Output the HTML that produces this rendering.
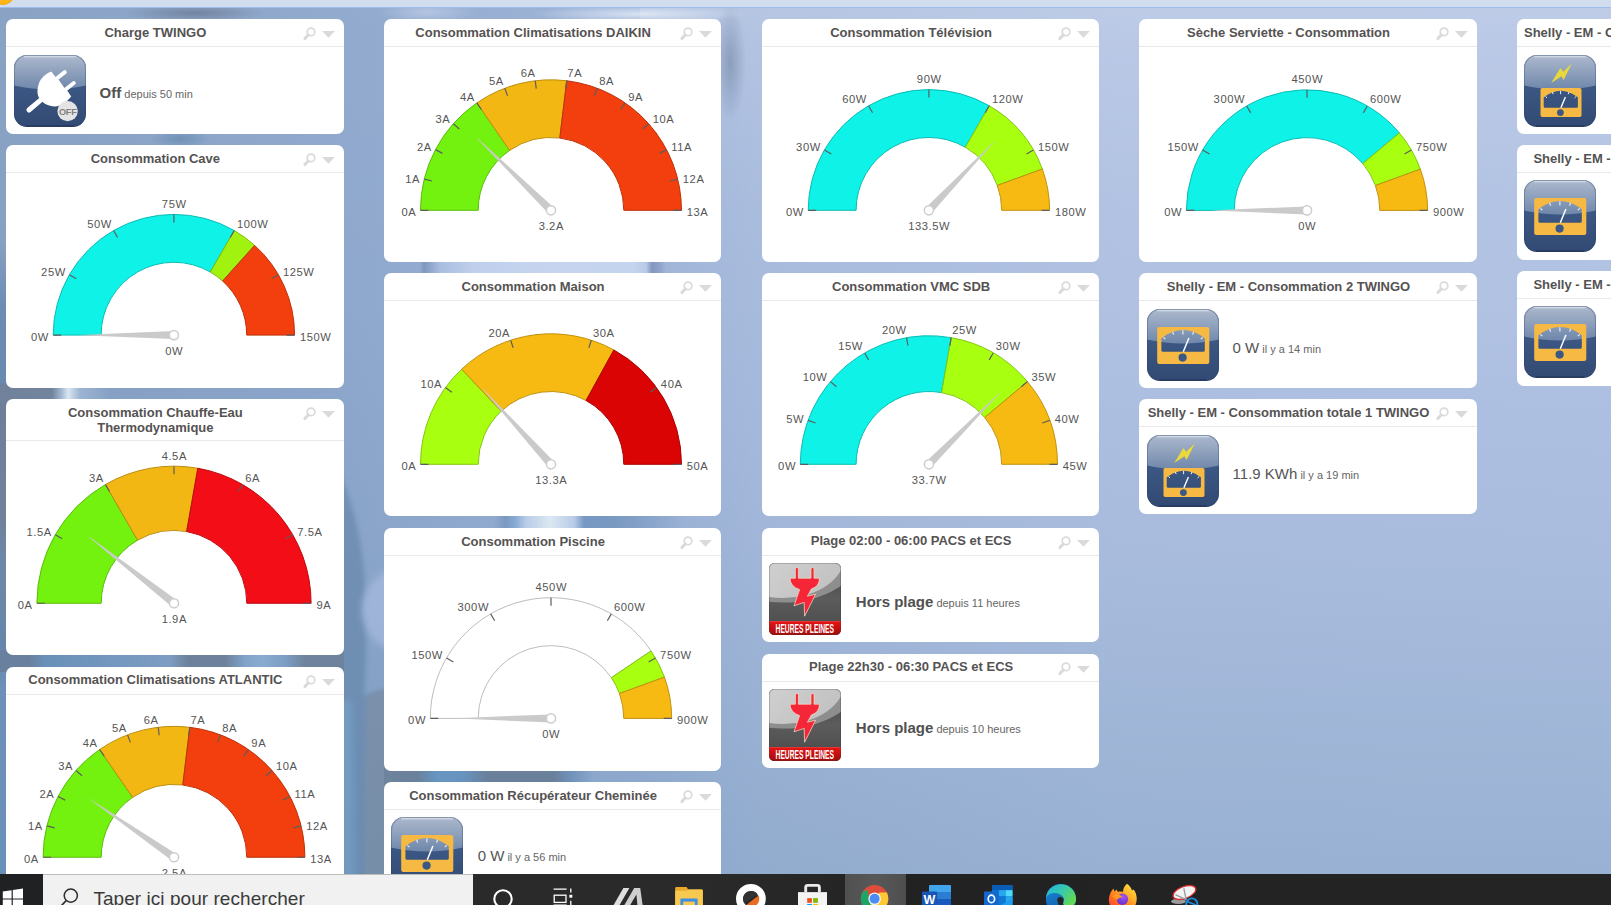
<!DOCTYPE html>
<html lang="fr"><head><meta charset="utf-8"><title>Dashboard</title>
<style>
html,body{margin:0;padding:0;overflow:hidden}
#page{position:absolute;left:0;top:0;width:1611px;height:905px;overflow:hidden}
body{width:1611px;height:905px;overflow:hidden;position:relative;font-family:"Liberation Sans", sans-serif;background:#94acd1}
#bg{position:absolute;left:0;top:0;width:1611px;height:905px;overflow:hidden;
background:
radial-gradient(ellipse 70px 9px at 195px 13px,rgba(108,124,150,.9),rgba(108,124,150,0) 100%),
radial-gradient(ellipse 50px 12px at 428px 12px,rgba(184,199,228,.85),rgba(184,199,228,0) 100%),
radial-gradient(ellipse 16px 60px at 730px 62px,rgba(122,141,176,.9),rgba(122,141,176,0) 100%),
radial-gradient(ellipse 110px 9px at 640px 14px,rgba(225,233,247,.85),rgba(225,233,247,0) 100%),
radial-gradient(ellipse 30px 10px at 180px 139px,rgba(106,140,178,.9),rgba(106,140,178,0) 100%),
linear-gradient(90deg,#86a0c3 0,#88a2c6 120px,#8fa8cd 360px,#9db3d7 640px,#a8bbdd 760px,#b0c1e2 1120px,#b1c2e3 1611px)}
#bg:after{content:"";position:absolute;left:0;top:0;right:0;bottom:0;
background:linear-gradient(180deg,rgba(255,255,255,.03) 0,rgba(255,255,255,0) 300px,rgba(60,110,150,.07) 560px,rgba(60,115,150,.22) 905px)}
#bg i{position:absolute;display:block}
#topbar{position:absolute;left:0;top:0;width:1611px;height:7px;background:#d1ddef;border-bottom:1px solid #9dbdea}
#dot{position:absolute;left:-9px;top:-19.5px;width:22px;height:22px;border-radius:50%;background:#fdb71a;border:1px solid #f3a70e}
.card{position:absolute;background:#fff;border-radius:7px;overflow:hidden;margin:0}
.ttl{position:absolute;margin:0;font-size:13px;line-height:15px;font-weight:bold;color:#555252;text-align:center;padding-top:6.1px;white-space:nowrap}
.hic{position:absolute}
.hr{position:absolute;left:0;right:0;height:1px;background:#e9e9e9}
.ic{position:absolute}
.val{position:absolute;margin:0;white-space:nowrap;line-height:36px;height:36px;color:#555}
.big{font-size:15px;color:#555}
.b{font-weight:bold;color:#505050}
.sm{font-size:11px;color:#666}
.g{position:absolute;left:0;top:0;pointer-events:none}
.g text{font-family:"Liberation Sans", sans-serif;font-size:11.2px;letter-spacing:.55px;fill:#555}
</style></head><body>
<main id="page">
<div id="bg">
<i style="left:640px;top:0;width:971px;height:300px;background:linear-gradient(180deg,rgba(255,255,255,.15) 0,rgba(255,255,255,.1) 40px,rgba(255,255,255,.02) 200px,rgba(255,255,255,0) 300px)"></i>
<i style="left:0;top:8px;width:9px;height:867px;background:linear-gradient(180deg,rgba(134,160,195,0) 0,rgba(134,160,195,0) 235px,#6c8cb1 300px,#6a8bb0 375px,#6e7f99 395px,#73849e 520px,#6f8aad 560px,#6d88ab 640px,#7296bd 680px,#7598c0 867px)"></i>
<i style="left:0;top:383px;width:360px;height:20px;background:linear-gradient(90deg,#72829c 0,#74849d 52px,#a9bdd6 62px,#dfe9f2 68px,#9fb6d4 80px,rgba(136,162,198,0) 110px)"></i>
<i style="left:0;top:650px;width:345px;height:22px;background:linear-gradient(90deg,#6f839f 0,#6f839f 30px,#6f95bd 45px,#7a9cc4 110px,#86a2c8 170px,#73839c 188px,#73839c 225px,#8aaad0 245px,#93b3d8 262px,#86a4ca 285px,#75859e 305px,#75859e 345px)"></i>
<svg style="position:absolute;left:344px;top:430px" width="40" height="445" viewBox="344 430 40 445">
<defs><filter id="bl3" x="-50%" y="-10%" width="200%" height="120%"><feGaussianBlur stdDeviation="2.5"/></filter>
<filter id="bl5" x="-50%" y="-50%" width="200%" height="200%"><feGaussianBlur stdDeviation="3.5"/></filter></defs>
<path d="M330 452 C350 490 360 530 364 572 C367 612 367 650 364 696 L392 690 L392 890 L330 890 Z" fill="#7492b6" filter="url(#bl3)"/>
<circle cx="404" cy="610" r="42" fill="#a8bbdf" filter="url(#bl5)"/>

<path d="M366 700 C372 690 380 690 392 688 L392 890 L364 890 Z" fill="#8595ad" filter="url(#bl3)"/>
<path d="M338 700 L352 700 L356 890 L338 890 Z" fill="#7fa2c9" filter="url(#bl5)"/>
</svg>
<i style="left:384px;top:255px;width:340px;height:25px;background:linear-gradient(90deg,rgba(159,179,214,0) 0,rgba(159,179,214,0) 36px,#7f97bd 40px,#a9bde0 56px,#c0d0ec 90px,#c6d4ef 170px,#c4d3ee 250px,#b9c9e8 262px,#8296bf 268px,#8fa3ca 276px,rgba(159,179,214,0) 282px)"></i>
<i style="left:384px;top:509px;width:340px;height:25px;background:linear-gradient(90deg,rgba(148,171,208,0) 0,rgba(148,171,208,0) 110px,#7d9cc4 122px,#8fb0d8 132px,#c0d2ec 142px,#e6eff8 166px,#c0d2ec 190px,#7a9bc6 200px,#7d9cc4 230px,rgba(148,171,208,0) 300px)"></i>
<i style="left:384px;top:764px;width:234px;height:25px;background:linear-gradient(90deg,#78889f 0,#73839c 32px,#6f9dcb 54px,#7099c6 79px,#73839c 104px,#73839c 170px,#7796bd 184px,rgba(148,171,208,0) 209px)"></i>
</div>
<div id="topbar"></div><div id="dot"></div>
<svg width="0" height="0" style="position:absolute"><defs>
<linearGradient id="gTop" x1="0" y1="0" x2="0" y2="1"><stop offset="0" stop-color="#b4c0d2"/><stop offset=".12" stop-color="#a5b3c9"/><stop offset="1" stop-color="#6f87ab"/></linearGradient>
<linearGradient id="gBot" x1="0" y1="0" x2="0" y2="1"><stop offset="0" stop-color="#3d5b88"/><stop offset=".45" stop-color="#3b5783"/><stop offset="1" stop-color="#324a73"/></linearGradient>
<clipPath id="cpIcon"><rect x="0" y="0" width="72" height="72" rx="13" ry="13"/></clipPath>
<g id="blueBase">
  <rect x="0" y="0" width="72" height="72" rx="13" ry="13" fill="url(#gBot)"/>
  <g clip-path="url(#cpIcon)"><path d="M0 0 H72 V30.5 Q36 38.5 0 30.5 Z" fill="url(#gTop)"/></g>
  <rect x=".5" y=".5" width="71" height="71" rx="12.5" ry="12.5" fill="none" stroke="#2b4067" stroke-opacity=".32" stroke-width="1"/>
  <path d="M10 1.7 H62" stroke="#dfe5ee" stroke-opacity=".9" stroke-width="1.1"/>
  <path d="M12 71 H60" stroke="#1b2c4c" stroke-opacity=".8" stroke-width="1.2"/>
</g>
<g id="plugoff">
  <use href="#blueBase"/>
  <path d="M14.9 55 L27.2 44.6" stroke="#fff" stroke-width="5" stroke-linecap="round" fill="none"/>
  <path d="M43 23.3 L50.8 17.1" stroke="#fff" stroke-width="3.9" stroke-linecap="round"/>
  <path d="M51.9 34.2 L59.8 28" stroke="#fff" stroke-width="3.9" stroke-linecap="round"/>
  <path d="M37.3 16.6 L41 21.3 L45 25.3 L49.9 32.2 L53.9 36.5 L57.2 41.5 C54.5 45 52 47 48.9 48.8 C46 50.8 43 51.6 40.3 51.4 C36 51.4 32.5 50 29.7 48.1 L24.7 42.2 C23.3 39.5 23.3 36.5 23.7 33.5 C24.2 30 25.3 27 27 24.3 C28.3 22.6 30 21 31.7 19.6 C33.5 18.2 35.3 17.3 37.3 16.6 Z" fill="#fff"/>
  <circle cx="53.6" cy="56.1" r="10.2" fill="#e4e4e4"/>
  <text x="53.7" y="59.5" text-anchor="middle" font-family="'Liberation Sans',sans-serif" font-weight="bold" font-size="9.2" fill="#808080" letter-spacing="-.25">OFF</text>
</g>
<g id="meter">
  <use href="#blueBase"/>
  <path fill-rule="evenodd" fill="#f6b943" d="M12.2 18 H60.3 Q62.3 18 62.3 20 V52.9 Q62.3 54.9 60.3 54.9 H12.2 Q10.2 54.9 10.2 52.9 V20 Q10.2 18 12.2 18 Z
   M14.4 29.2 Q36.1 12.8 57.8 29.2 V41.3 Q57.8 42.8 56.3 42.8 H15.9 Q14.4 42.8 14.4 41.3 Z"/>
  <path d="M35.9 21.3 V25.6 M25.6 22.8 L26.6 25.6 M46.6 22.8 L45.6 25.6 M16.4 28.3 L18.4 30.2 M55.8 28.3 L53.8 30.2" stroke="#eef1f6" stroke-width="1.1" fill="none"/>
  <path d="M36.3 42.8 L41.9 29" stroke="#fff" stroke-width="1.5"/>
  <circle cx="35.6" cy="48.6" r="4.1" fill="#3b5884"/>
</g>
<g id="meterbolt">
  <use href="#blueBase"/>
  <path d="M27.2 28.1 L36.4 13 L39.2 16.8 L47.8 8.4 L39.6 24.9 L37.4 21.3 Z" fill="#e9d93a"/>
  <path fill-rule="evenodd" fill="#f6b943" d="M18.3 32.9 H55.7 Q57.5 32.9 57.5 34.7 V60.3 Q57.5 62.1 55.7 62.1 H18.3 Q16.5 62.1 16.5 60.3 V34.7 Q16.5 32.9 18.3 32.9 Z
   M19.7 42.2 Q36.8 29.2 53.9 42.2 V51.5 Q53.9 52.8 52.6 52.8 H21 Q19.7 52.8 19.7 51.5 Z"/>
  <path d="M36.6 35.8 V39.2 M28.4 37 L29.2 39.2 M45 37 L44.2 39.2 M21.4 41.4 L23 42.9 M52.2 41.4 L50.6 42.9" stroke="#eef1f6" stroke-width="1" fill="none"/>
  <path d="M36.9 52.8 L41.4 42" stroke="#fff" stroke-width="1.4"/>
  <circle cx="36.4" cy="57.6" r="3.4" fill="#3b5884"/>
</g>
<linearGradient id="hpTop" x1="0" y1="0" x2="1" y2=".7"><stop offset="0" stop-color="#a9a9a9"/><stop offset=".55" stop-color="#cfcfcf"/><stop offset="1" stop-color="#c2c2c2"/></linearGradient>
<linearGradient id="hpBot" x1="0" y1="0" x2="0" y2="1"><stop offset="0" stop-color="#444"/><stop offset=".5" stop-color="#5c5c5c"/><stop offset="1" stop-color="#484848"/></linearGradient>
<linearGradient id="hpRed" x1="0" y1="0" x2="0" y2="1"><stop offset="0" stop-color="#e81414"/><stop offset="1" stop-color="#a30b0b"/></linearGradient>
<clipPath id="cpHp"><rect x="0" y="0" width="72" height="72" rx="5.5" ry="5.5"/></clipPath>
<g id="hp">
  <g clip-path="url(#cpHp)">
    <rect x="0" y="0" width="72" height="72" fill="url(#hpBot)"/>
    <ellipse cx="14" cy="-8" rx="76" ry="47.5" fill="#8e8e8e"/>
    <ellipse cx="14" cy="-8" rx="62" ry="43" fill="url(#hpTop)"/>
    <rect x="0" y="58.3" width="72" height="13.7" fill="url(#hpRed)"/>
    <path d="M0 58.6 H72" stroke="#f43a3a" stroke-width=".8"/>
  </g>
  <rect x=".4" y=".4" width="71.2" height="71.2" rx="5.2" ry="5.2" fill="none" stroke="#3a3a3a" stroke-opacity=".35" stroke-width=".8"/>
  <path d="M26.4 15.2 V6 Q26.4 4.4 27.9 4.4 Q29.4 4.4 29.4 6 V15.2 H42 V6 Q42 4.4 43.5 4.4 Q45 4.4 45 6 V15.2 H50.4 Q50.6 23.4 42.4 26 L38.4 33.2 L46.6 31.2 L35.6 53.2 L35.2 39.4 L25 42.8 L30.6 26.6 Q21.2 23.6 21 15.2 Z"
   fill="#f52637" stroke="#f0d9c3" stroke-opacity=".85" stroke-width=".9" stroke-linejoin="round"/>
  <text x="35.8" y="70.2" text-anchor="middle" font-family="'Liberation Sans',sans-serif" font-weight="bold" font-size="13.6" fill="#fff" textLength="58.5" lengthAdjust="spacingAndGlyphs">HEURES PLEINES</text>
</g>
</defs></svg>

<section class="card" style="left:5.80px;top:18.80px;width:338.20px;height:115.25px">
<h3 class="ttl" style="left:5px;top:0px;width:289.20px">Charge TWINGO</h3>
<svg class="hic" style="left:294.20px;top:6px" width="40" height="18" viewBox="0 0 40 18"><circle cx="11" cy="6.9" r="3.8" fill="none" stroke="#dadada" stroke-width="1.7"/><path d="M8.2 9.9 L4.9 13.6" stroke="#dadada" stroke-width="3" stroke-linecap="round"/><path d="M22 5.9 H34.9 L28.45 12.7 Z" fill="#dadada"/></svg>
<div class="hr" style="top:27.30px"></div>
<svg class="ic" style="left:8.3px;top:36.2px" width="72" height="72" viewBox="0 0 72 72"><use href="#plugoff"/></svg>
<p class="val" style="left:93.8px;top:56.70px"><span class="big b">Off</span><span class="sm"> depuis 50 min</span></p>
</section>
<section class="card" style="left:5.80px;top:144.70px;width:338.20px;height:243.30px">
<h3 class="ttl" style="left:5px;top:0px;width:289.20px">Consommation Cave</h3>
<svg class="hic" style="left:294.20px;top:6px" width="40" height="18" viewBox="0 0 40 18"><circle cx="11" cy="6.9" r="3.8" fill="none" stroke="#dadada" stroke-width="1.7"/><path d="M8.2 9.9 L4.9 13.6" stroke="#dadada" stroke-width="3" stroke-linecap="round"/><path d="M22 5.9 H34.9 L28.45 12.7 Z" fill="#dadada"/></svg>
<div class="hr" style="top:27.30px"></div>
</section>
<section class="card" style="left:5.80px;top:399.00px;width:338.20px;height:256.10px">
<h3 class="ttl" style="left:5px;top:-0.3px;width:289.20px">Consommation Chauffe-Eau<br>Thermodynamique</h3>
<svg class="hic" style="left:294.20px;top:6px" width="40" height="18" viewBox="0 0 40 18"><circle cx="11" cy="6.9" r="3.8" fill="none" stroke="#dadada" stroke-width="1.7"/><path d="M8.2 9.9 L4.9 13.6" stroke="#dadada" stroke-width="3" stroke-linecap="round"/><path d="M22 5.9 H34.9 L28.45 12.7 Z" fill="#dadada"/></svg>
<div class="hr" style="top:41.00px"></div>
</section>
<section class="card" style="left:5.80px;top:666.90px;width:338.20px;height:248.10px">
<h3 class="ttl" style="left:5px;top:-1px;width:289.20px">Consommation Climatisations ATLANTIC</h3>
<svg class="hic" style="left:294.20px;top:6px" width="40" height="18" viewBox="0 0 40 18"><circle cx="11" cy="6.9" r="3.8" fill="none" stroke="#dadada" stroke-width="1.7"/><path d="M8.2 9.9 L4.9 13.6" stroke="#dadada" stroke-width="3" stroke-linecap="round"/><path d="M22 5.9 H34.9 L28.45 12.7 Z" fill="#dadada"/></svg>
<div class="hr" style="top:27.30px"></div>
</section>
<section class="card" style="left:383.90px;top:18.80px;width:337.30px;height:243.10px">
<h3 class="ttl" style="left:5px;top:0px;width:288.30px">Consommation Climatisations DAIKIN</h3>
<svg class="hic" style="left:293.30px;top:6px" width="40" height="18" viewBox="0 0 40 18"><circle cx="11" cy="6.9" r="3.8" fill="none" stroke="#dadada" stroke-width="1.7"/><path d="M8.2 9.9 L4.9 13.6" stroke="#dadada" stroke-width="3" stroke-linecap="round"/><path d="M22 5.9 H34.9 L28.45 12.7 Z" fill="#dadada"/></svg>
<div class="hr" style="top:27.30px"></div>
</section>
<section class="card" style="left:383.90px;top:272.90px;width:337.30px;height:243.20px">
<h3 class="ttl" style="left:5px;top:0px;width:288.30px">Consommation Maison</h3>
<svg class="hic" style="left:293.30px;top:6px" width="40" height="18" viewBox="0 0 40 18"><circle cx="11" cy="6.9" r="3.8" fill="none" stroke="#dadada" stroke-width="1.7"/><path d="M8.2 9.9 L4.9 13.6" stroke="#dadada" stroke-width="3" stroke-linecap="round"/><path d="M22 5.9 H34.9 L28.45 12.7 Z" fill="#dadada"/></svg>
<div class="hr" style="top:27.30px"></div>
</section>
<section class="card" style="left:383.90px;top:527.80px;width:337.30px;height:243.20px">
<h3 class="ttl" style="left:5px;top:0px;width:288.30px">Consommation Piscine</h3>
<svg class="hic" style="left:293.30px;top:6px" width="40" height="18" viewBox="0 0 40 18"><circle cx="11" cy="6.9" r="3.8" fill="none" stroke="#dadada" stroke-width="1.7"/><path d="M8.2 9.9 L4.9 13.6" stroke="#dadada" stroke-width="3" stroke-linecap="round"/><path d="M22 5.9 H34.9 L28.45 12.7 Z" fill="#dadada"/></svg>
<div class="hr" style="top:27.30px"></div>
</section>
<section class="card" style="left:383.90px;top:782.00px;width:337.30px;height:133.00px">
<h3 class="ttl" style="left:5px;top:0px;width:288.30px">Consommation Récupérateur Cheminée</h3>
<svg class="hic" style="left:293.30px;top:6px" width="40" height="18" viewBox="0 0 40 18"><circle cx="11" cy="6.9" r="3.8" fill="none" stroke="#dadada" stroke-width="1.7"/><path d="M8.2 9.9 L4.9 13.6" stroke="#dadada" stroke-width="3" stroke-linecap="round"/><path d="M22 5.9 H34.9 L28.45 12.7 Z" fill="#dadada"/></svg>
<div class="hr" style="top:27.30px"></div>
<svg class="ic" style="left:7.3px;top:35.4px" width="72" height="72" viewBox="0 0 72 72"><use href="#meter"/></svg>
<p class="val" style="left:93.8px;top:55.90px"><span class="big">0 W</span><span class="sm"> il y a 56 min</span></p>
</section>
<section class="card" style="left:762.00px;top:18.80px;width:337.20px;height:243.10px">
<h3 class="ttl" style="left:5px;top:0px;width:288.20px">Consommation Télévision</h3>
<svg class="hic" style="left:293.20px;top:6px" width="40" height="18" viewBox="0 0 40 18"><circle cx="11" cy="6.9" r="3.8" fill="none" stroke="#dadada" stroke-width="1.7"/><path d="M8.2 9.9 L4.9 13.6" stroke="#dadada" stroke-width="3" stroke-linecap="round"/><path d="M22 5.9 H34.9 L28.45 12.7 Z" fill="#dadada"/></svg>
<div class="hr" style="top:27.30px"></div>
</section>
<section class="card" style="left:762.00px;top:272.90px;width:337.20px;height:243.20px">
<h3 class="ttl" style="left:5px;top:0px;width:288.20px">Consommation VMC SDB</h3>
<svg class="hic" style="left:293.20px;top:6px" width="40" height="18" viewBox="0 0 40 18"><circle cx="11" cy="6.9" r="3.8" fill="none" stroke="#dadada" stroke-width="1.7"/><path d="M8.2 9.9 L4.9 13.6" stroke="#dadada" stroke-width="3" stroke-linecap="round"/><path d="M22 5.9 H34.9 L28.45 12.7 Z" fill="#dadada"/></svg>
<div class="hr" style="top:27.30px"></div>
</section>
<section class="card" style="left:762.00px;top:527.70px;width:337.20px;height:114.30px">
<h3 class="ttl" style="left:5px;top:-1px;width:288.20px">Plage 02:00 - 06:00 PACS et ECS</h3>
<svg class="hic" style="left:293.20px;top:6px" width="40" height="18" viewBox="0 0 40 18"><circle cx="11" cy="6.9" r="3.8" fill="none" stroke="#dadada" stroke-width="1.7"/><path d="M8.2 9.9 L4.9 13.6" stroke="#dadada" stroke-width="3" stroke-linecap="round"/><path d="M22 5.9 H34.9 L28.45 12.7 Z" fill="#dadada"/></svg>
<div class="hr" style="top:27.30px"></div>
<svg class="ic" style="left:7.2px;top:35.3px" width="72" height="72" viewBox="0 0 72 72"><use href="#hp"/></svg>
<p class="val" style="left:93.8px;top:55.90px"><span class="big b">Hors plage</span><span class="sm"> depuis 11 heures</span></p>
</section>
<section class="card" style="left:762.00px;top:653.90px;width:337.20px;height:114.30px">
<h3 class="ttl" style="left:5px;top:-1px;width:288.20px">Plage 22h30 - 06:30 PACS et ECS</h3>
<svg class="hic" style="left:293.20px;top:6px" width="40" height="18" viewBox="0 0 40 18"><circle cx="11" cy="6.9" r="3.8" fill="none" stroke="#dadada" stroke-width="1.7"/><path d="M8.2 9.9 L4.9 13.6" stroke="#dadada" stroke-width="3" stroke-linecap="round"/><path d="M22 5.9 H34.9 L28.45 12.7 Z" fill="#dadada"/></svg>
<div class="hr" style="top:27.30px"></div>
<svg class="ic" style="left:7.2px;top:35.3px" width="72" height="72" viewBox="0 0 72 72"><use href="#hp"/></svg>
<p class="val" style="left:93.8px;top:55.90px"><span class="big b">Hors plage</span><span class="sm"> depuis 10 heures</span></p>
</section>
<section class="card" style="left:1138.80px;top:18.80px;width:338.40px;height:243.10px">
<h3 class="ttl" style="left:5px;top:0px;width:289.40px">Sèche Serviette - Consommation</h3>
<svg class="hic" style="left:294.40px;top:6px" width="40" height="18" viewBox="0 0 40 18"><circle cx="11" cy="6.9" r="3.8" fill="none" stroke="#dadada" stroke-width="1.7"/><path d="M8.2 9.9 L4.9 13.6" stroke="#dadada" stroke-width="3" stroke-linecap="round"/><path d="M22 5.9 H34.9 L28.45 12.7 Z" fill="#dadada"/></svg>
<div class="hr" style="top:27.30px"></div>
</section>
<section class="card" style="left:1138.80px;top:272.90px;width:338.40px;height:115.10px">
<h3 class="ttl" style="left:5px;top:0px;width:289.40px">Shelly - EM - Consommation 2 TWINGO</h3>
<svg class="hic" style="left:294.40px;top:6px" width="40" height="18" viewBox="0 0 40 18"><circle cx="11" cy="6.9" r="3.8" fill="none" stroke="#dadada" stroke-width="1.7"/><path d="M8.2 9.9 L4.9 13.6" stroke="#dadada" stroke-width="3" stroke-linecap="round"/><path d="M22 5.9 H34.9 L28.45 12.7 Z" fill="#dadada"/></svg>
<div class="hr" style="top:27.30px"></div>
<svg class="ic" style="left:8.3px;top:36.2px" width="72" height="72" viewBox="0 0 72 72"><use href="#meter"/></svg>
<p class="val" style="left:93.8px;top:56.70px"><span class="big">0 W</span><span class="sm"> il y a 14 min</span></p>
</section>
<section class="card" style="left:1138.80px;top:399.00px;width:338.40px;height:115.20px">
<h3 class="ttl" style="left:5px;top:0px;width:289.40px">Shelly - EM - Consommation totale 1 TWINGO</h3>
<svg class="hic" style="left:294.40px;top:6px" width="40" height="18" viewBox="0 0 40 18"><circle cx="11" cy="6.9" r="3.8" fill="none" stroke="#dadada" stroke-width="1.7"/><path d="M8.2 9.9 L4.9 13.6" stroke="#dadada" stroke-width="3" stroke-linecap="round"/><path d="M22 5.9 H34.9 L28.45 12.7 Z" fill="#dadada"/></svg>
<div class="hr" style="top:27.30px"></div>
<svg class="ic" style="left:8.3px;top:36.2px" width="72" height="72" viewBox="0 0 72 72"><use href="#meterbolt"/></svg>
<p class="val" style="left:93.8px;top:56.70px"><span class="big">11.9 KWh</span><span class="sm"> il y a 19 min</span></p>
</section>
<section class="card" style="left:1516.80px;top:18.80px;width:338.20px;height:115.20px">
<h3 class="ttl" style="left:7.2px;top:0;text-align:left;width:400px">Shelly - EM - Consommation totale 2 TWINGO</h3>
<svg class="hic" style="left:294.20px;top:6px" width="40" height="18" viewBox="0 0 40 18"><circle cx="11" cy="6.9" r="3.8" fill="none" stroke="#dadada" stroke-width="1.7"/><path d="M8.2 9.9 L4.9 13.6" stroke="#dadada" stroke-width="3" stroke-linecap="round"/><path d="M22 5.9 H34.9 L28.45 12.7 Z" fill="#dadada"/></svg>
<div class="hr" style="top:27.30px"></div>
<svg class="ic" style="left:7.3px;top:36.3px" width="72" height="72" viewBox="0 0 72 72"><use href="#meterbolt"/></svg>
</section>
<section class="card" style="left:1516.80px;top:144.90px;width:338.20px;height:115.15px">
<h3 class="ttl" style="left:16.6px;top:0;text-align:left;width:400px">Shelly - EM - Consommation 1 TWINGO ECS</h3>
<svg class="hic" style="left:294.20px;top:6px" width="40" height="18" viewBox="0 0 40 18"><circle cx="11" cy="6.9" r="3.8" fill="none" stroke="#dadada" stroke-width="1.7"/><path d="M8.2 9.9 L4.9 13.6" stroke="#dadada" stroke-width="3" stroke-linecap="round"/><path d="M22 5.9 H34.9 L28.45 12.7 Z" fill="#dadada"/></svg>
<div class="hr" style="top:27.30px"></div>
<svg class="ic" style="left:7.1px;top:35.2px" width="72" height="72" viewBox="0 0 72 72"><use href="#meter"/></svg>
</section>
<section class="card" style="left:1516.80px;top:270.90px;width:338.20px;height:115.10px">
<h3 class="ttl" style="left:16.6px;top:0;text-align:left;width:400px">Shelly - EM - Consommation 3 TWINGO ECS</h3>
<svg class="hic" style="left:294.20px;top:6px" width="40" height="18" viewBox="0 0 40 18"><circle cx="11" cy="6.9" r="3.8" fill="none" stroke="#dadada" stroke-width="1.7"/><path d="M8.2 9.9 L4.9 13.6" stroke="#dadada" stroke-width="3" stroke-linecap="round"/><path d="M22 5.9 H34.9 L28.45 12.7 Z" fill="#dadada"/></svg>
<div class="hr" style="top:27.30px"></div>
<svg class="ic" style="left:7.2px;top:35.5px" width="72" height="72" viewBox="0 0 72 72"><use href="#meter"/></svg>
</section>
<svg class="g" width="1611" height="905" viewBox="0 0 1611 905">
<g>
<path d="M53.20 335.10 A120.7 120.7 0 0 1 234.25 230.57 L210.30 272.05 A72.8 72.8 0 0 0 101.10 335.10 Z" fill="#0ff2e8" stroke="#0bbcb4" stroke-width="1" stroke-linejoin="round"/>
<path d="M234.25 230.57 A120.7 120.7 0 0 1 254.66 245.40 L222.61 281.00 A72.8 72.8 0 0 0 210.30 272.05 Z" fill="#a2f20f" stroke="#7ebc0b" stroke-width="1" stroke-linejoin="round"/>
<path d="M254.66 245.40 A120.7 120.7 0 0 1 294.60 335.10 L246.70 335.10 A72.8 72.8 0 0 0 222.61 281.00 Z" fill="#f23f0d" stroke="#bc310a" stroke-width="1" stroke-linejoin="round"/>
<path d="M53.20 335.10L61.20 335.10M69.37 274.75L76.30 278.75M113.55 230.57L117.55 237.50M173.90 214.40L173.90 222.40M234.25 230.57L230.25 237.50M278.43 274.75L271.50 278.75M294.60 335.10L286.60 335.10" stroke="#5e5e5e" stroke-width="1.2" fill="none"/>
<text x="48.90" y="341.00" text-anchor="end">0W</text>
<text x="65.78" y="275.95" text-anchor="end">25W</text>
<text x="111.90" y="227.78" text-anchor="end">50W</text>
<text x="174.20" y="207.90" text-anchor="middle">75W</text>
<text x="236.90" y="227.78" text-anchor="start">100W</text>
<text x="283.02" y="275.95" text-anchor="start">125W</text>
<text x="299.90" y="341.00" text-anchor="start">150W</text>
<path d="M173.90 331.10 L79.15 334.90 L79.15 335.30 L173.90 339.10 Z" fill="#cacaca"/>
<circle cx="173.9" cy="335.1" r="4.6" fill="#fff" stroke="#cdcdcd" stroke-width="1.5"/>
<text x="174.20" y="354.90" text-anchor="middle">0W</text>
</g>
<g>
<path d="M420.50 210.30 A130.5 130.5 0 0 1 476.87 102.90 L509.64 150.39 A72.8 72.8 0 0 0 478.20 210.30 Z" fill="#74f20f" stroke="#5abc0b" stroke-width="1" stroke-linejoin="round"/>
<path d="M476.87 102.90 A130.5 130.5 0 0 1 566.73 80.75 L559.78 138.03 A72.8 72.8 0 0 0 509.64 150.39 Z" fill="#f2b713" stroke="#bc8e0e" stroke-width="1" stroke-linejoin="round"/>
<path d="M566.73 80.75 A130.5 130.5 0 0 1 681.50 210.30 L623.80 210.30 A72.8 72.8 0 0 0 559.78 138.03 Z" fill="#f23f0d" stroke="#bc310a" stroke-width="1" stroke-linejoin="round"/>
<path d="M420.50 210.30L428.50 210.30M424.29 179.07L432.06 180.98M435.45 149.65L442.53 153.37M453.32 123.76L459.31 129.07M476.87 102.90L481.41 109.48M504.72 88.28L507.56 95.76M535.27 80.75L536.23 88.69M566.73 80.75L565.77 88.69M597.28 88.28L594.44 95.76M625.13 102.90L620.59 109.48M648.68 123.76L642.69 129.07M666.55 149.65L659.47 153.37M677.71 179.07L669.94 180.98M681.50 210.30L673.50 210.30" stroke="#5e5e5e" stroke-width="1.2" fill="none"/>
<text x="416.20" y="216.20" text-anchor="end">0A</text>
<text x="420.15" y="182.75" text-anchor="end">1A</text>
<text x="431.76" y="151.20" text-anchor="end">2A</text>
<text x="450.35" y="123.31" text-anchor="end">3A</text>
<text x="474.86" y="100.65" text-anchor="end">4A</text>
<text x="503.84" y="85.12" text-anchor="end">5A</text>
<text x="535.63" y="77.29" text-anchor="end">6A</text>
<text x="567.37" y="77.29" text-anchor="start">7A</text>
<text x="599.16" y="85.12" text-anchor="start">8A</text>
<text x="628.14" y="100.65" text-anchor="start">9A</text>
<text x="652.65" y="123.31" text-anchor="start">10A</text>
<text x="671.24" y="151.20" text-anchor="start">11A</text>
<text x="682.85" y="182.75" text-anchor="start">12A</text>
<text x="686.80" y="216.20" text-anchor="start">13A</text>
<path d="M553.79 207.44 L477.83 138.60 L477.55 138.89 L548.21 213.16 Z" fill="#cacaca"/>
<circle cx="551.0" cy="210.3" r="4.6" fill="#fff" stroke="#cdcdcd" stroke-width="1.5"/>
<text x="551.30" y="230.10" text-anchor="middle">3.2A</text>
</g>
<g>
<path d="M420.50 464.30 A130.5 130.5 0 0 1 461.67 369.17 L501.16 411.23 A72.8 72.8 0 0 0 478.20 464.30 Z" fill="#a8ff0f" stroke="#83c60b" stroke-width="1" stroke-linejoin="round"/>
<path d="M461.67 369.17 A130.5 130.5 0 0 1 613.87 349.94 L586.07 400.50 A72.8 72.8 0 0 0 501.16 411.23 Z" fill="#f7ba12" stroke="#c0910e" stroke-width="1" stroke-linejoin="round"/>
<path d="M613.87 349.94 A130.5 130.5 0 0 1 681.50 464.30 L623.80 464.30 A72.8 72.8 0 0 0 586.07 400.50 Z" fill="#db0404" stroke="#aa0303" stroke-width="1" stroke-linejoin="round"/>
<path d="M420.50 464.30L428.50 464.30M445.42 387.59L451.90 392.30M510.67 340.19L513.15 347.80M591.33 340.19L588.85 347.80M656.58 387.59L650.10 392.30M681.50 464.30L673.50 464.30" stroke="#5e5e5e" stroke-width="1.2" fill="none"/>
<text x="416.20" y="470.20" text-anchor="end">0A</text>
<text x="442.14" y="387.92" text-anchor="end">10A</text>
<text x="510.04" y="336.95" text-anchor="end">20A</text>
<text x="592.96" y="336.95" text-anchor="start">30A</text>
<text x="660.86" y="387.92" text-anchor="start">40A</text>
<text x="686.80" y="470.20" text-anchor="start">50A</text>
<path d="M553.97 461.62 L482.44 388.18 L482.14 388.45 L548.03 466.98 Z" fill="#cacaca"/>
<circle cx="551.0" cy="464.3" r="4.6" fill="#fff" stroke="#cdcdcd" stroke-width="1.5"/>
<text x="551.30" y="484.10" text-anchor="middle">13.3A</text>
</g>
<g>
<path d="M430.30 718.40 A120.7 120.7 0 0 1 651.06 650.91 L611.35 677.69 A72.8 72.8 0 0 0 478.20 718.40 Z" fill="#ffffff" stroke="#bdbdbd" stroke-width="1" stroke-linejoin="round"/>
<path d="M651.06 650.91 A120.7 120.7 0 0 1 664.42 677.12 L619.41 693.50 A72.8 72.8 0 0 0 611.35 677.69 Z" fill="#a8ff0f" stroke="#83c60b" stroke-width="1" stroke-linejoin="round"/>
<path d="M664.42 677.12 A120.7 120.7 0 0 1 671.70 718.40 L623.80 718.40 A72.8 72.8 0 0 0 619.41 693.50 Z" fill="#f7ba12" stroke="#c0910e" stroke-width="1" stroke-linejoin="round"/>
<path d="M430.30 718.40L438.30 718.40M446.47 658.05L453.40 662.05M490.65 613.87L494.65 620.80M551.00 597.70L551.00 605.70M611.35 613.87L607.35 620.80M655.53 658.05L648.60 662.05M671.70 718.40L663.70 718.40" stroke="#5e5e5e" stroke-width="1.2" fill="none"/>
<text x="426.00" y="724.30" text-anchor="end">0W</text>
<text x="442.88" y="659.25" text-anchor="end">150W</text>
<text x="489.00" y="611.08" text-anchor="end">300W</text>
<text x="551.30" y="591.20" text-anchor="middle">450W</text>
<text x="614.00" y="611.08" text-anchor="start">600W</text>
<text x="660.12" y="659.25" text-anchor="start">750W</text>
<text x="677.00" y="724.30" text-anchor="start">900W</text>
<path d="M551.00 714.40 L456.25 718.20 L456.25 718.60 L551.00 722.40 Z" fill="#cacaca"/>
<circle cx="551.0" cy="718.4" r="4.6" fill="#fff" stroke="#cdcdcd" stroke-width="1.5"/>
<text x="551.30" y="738.20" text-anchor="middle">0W</text>
</g>
<g>
<path d="M808.20 210.30 A120.7 120.7 0 0 1 989.25 105.77 L965.30 147.25 A72.8 72.8 0 0 0 856.10 210.30 Z" fill="#0ff2e8" stroke="#0bbcb4" stroke-width="1" stroke-linejoin="round"/>
<path d="M989.25 105.77 A120.7 120.7 0 0 1 1042.32 169.02 L997.31 185.40 A72.8 72.8 0 0 0 965.30 147.25 Z" fill="#a8ff0f" stroke="#83c60b" stroke-width="1" stroke-linejoin="round"/>
<path d="M1042.32 169.02 A120.7 120.7 0 0 1 1049.60 210.30 L1001.70 210.30 A72.8 72.8 0 0 0 997.31 185.40 Z" fill="#f7ba12" stroke="#c0910e" stroke-width="1" stroke-linejoin="round"/>
<path d="M808.20 210.30L816.20 210.30M824.37 149.95L831.30 153.95M868.55 105.77L872.55 112.70M928.90 89.60L928.90 97.60M989.25 105.77L985.25 112.70M1033.43 149.95L1026.50 153.95M1049.60 210.30L1041.60 210.30" stroke="#5e5e5e" stroke-width="1.2" fill="none"/>
<text x="803.90" y="216.20" text-anchor="end">0W</text>
<text x="820.78" y="151.15" text-anchor="end">30W</text>
<text x="866.90" y="102.98" text-anchor="end">60W</text>
<text x="929.20" y="83.10" text-anchor="middle">90W</text>
<text x="991.90" y="102.98" text-anchor="start">120W</text>
<text x="1038.02" y="151.15" text-anchor="start">150W</text>
<text x="1054.90" y="216.20" text-anchor="start">180W</text>
<path d="M931.80 213.05 L994.27 141.71 L993.98 141.43 L926.00 207.55 Z" fill="#cacaca"/>
<circle cx="928.9" cy="210.3" r="4.6" fill="#fff" stroke="#cdcdcd" stroke-width="1.5"/>
<text x="929.20" y="230.10" text-anchor="middle">133.5W</text>
</g>
<g>
<path d="M800.30 464.30 A128.6 128.6 0 0 1 951.23 337.65 L941.54 392.61 A72.8 72.8 0 0 0 856.10 464.30 Z" fill="#0ff2e8" stroke="#0bbcb4" stroke-width="1" stroke-linejoin="round"/>
<path d="M951.23 337.65 A128.6 128.6 0 0 1 1027.41 381.64 L984.67 417.51 A72.8 72.8 0 0 0 941.54 392.61 Z" fill="#a8ff0f" stroke="#83c60b" stroke-width="1" stroke-linejoin="round"/>
<path d="M1027.41 381.64 A128.6 128.6 0 0 1 1057.50 464.30 L1001.70 464.30 A72.8 72.8 0 0 0 984.67 417.51 Z" fill="#f7ba12" stroke="#c0910e" stroke-width="1" stroke-linejoin="round"/>
<path d="M800.30 464.30L808.30 464.30M808.06 420.32L815.57 423.05M830.39 381.64L836.52 386.78M864.60 352.93L868.60 359.86M906.57 337.65L907.96 345.53M951.23 337.65L949.84 345.53M993.20 352.93L989.20 359.86M1027.41 381.64L1021.28 386.78M1049.74 420.32L1042.23 423.05M1057.50 464.30L1049.50 464.30" stroke="#5e5e5e" stroke-width="1.2" fill="none"/>
<text x="796.00" y="470.20" text-anchor="end">0W</text>
<text x="804.08" y="423.04" text-anchor="end">5W</text>
<text x="827.33" y="381.40" text-anchor="end">10W</text>
<text x="862.95" y="350.14" text-anchor="end">15W</text>
<text x="906.65" y="334.23" text-anchor="end">20W</text>
<text x="952.15" y="334.23" text-anchor="start">25W</text>
<text x="995.85" y="350.14" text-anchor="start">30W</text>
<text x="1031.47" y="381.40" text-anchor="start">35W</text>
<text x="1054.72" y="423.04" text-anchor="start">40W</text>
<text x="1062.80" y="470.20" text-anchor="start">45W</text>
<path d="M931.74 467.12 L1000.18 392.81 L999.89 392.53 L926.06 461.48 Z" fill="#cacaca"/>
<circle cx="928.9" cy="464.3" r="4.6" fill="#fff" stroke="#cdcdcd" stroke-width="1.5"/>
<text x="929.20" y="484.10" text-anchor="middle">33.7W</text>
</g>
<g>
<path d="M1186.40 210.40 A120.6 120.6 0 0 1 1399.38 132.88 L1362.77 163.61 A72.8 72.8 0 0 0 1234.20 210.40 Z" fill="#0ff2e8" stroke="#0bbcb4" stroke-width="1" stroke-linejoin="round"/>
<path d="M1399.38 132.88 A120.6 120.6 0 0 1 1420.33 169.15 L1375.41 185.50 A72.8 72.8 0 0 0 1362.77 163.61 Z" fill="#a8ff0f" stroke="#83c60b" stroke-width="1" stroke-linejoin="round"/>
<path d="M1420.33 169.15 A120.6 120.6 0 0 1 1427.60 210.40 L1379.80 210.40 A72.8 72.8 0 0 0 1375.41 185.50 Z" fill="#f7ba12" stroke="#c0910e" stroke-width="1" stroke-linejoin="round"/>
<path d="M1186.40 210.40L1194.40 210.40M1202.56 150.10L1209.49 154.10M1246.70 105.96L1250.70 112.89M1307.00 89.80L1307.00 97.80M1367.30 105.96L1363.30 112.89M1411.44 150.10L1404.51 154.10M1427.60 210.40L1419.60 210.40" stroke="#5e5e5e" stroke-width="1.2" fill="none"/>
<text x="1182.10" y="216.30" text-anchor="end">0W</text>
<text x="1198.97" y="151.30" text-anchor="end">150W</text>
<text x="1245.05" y="103.17" text-anchor="end">300W</text>
<text x="1307.30" y="83.30" text-anchor="middle">450W</text>
<text x="1369.95" y="103.17" text-anchor="start">600W</text>
<text x="1416.03" y="151.30" text-anchor="start">750W</text>
<text x="1432.90" y="216.30" text-anchor="start">900W</text>
<path d="M1307.00 206.40 L1212.33 210.20 L1212.33 210.60 L1307.00 214.40 Z" fill="#cacaca"/>
<circle cx="1307.0" cy="210.4" r="4.6" fill="#fff" stroke="#cdcdcd" stroke-width="1.5"/>
<text x="1307.30" y="230.20" text-anchor="middle">0W</text>
</g>
<g>
<path d="M36.90 603.25 A137.1 137.1 0 0 1 105.45 484.52 L137.60 540.20 A72.8 72.8 0 0 0 101.20 603.25 Z" fill="#74f20f" stroke="#5abc0b" stroke-width="1" stroke-linejoin="round"/>
<path d="M105.45 484.52 A137.1 137.1 0 0 1 197.81 468.23 L186.64 531.56 A72.8 72.8 0 0 0 137.60 540.20 Z" fill="#f2b713" stroke="#bc8e0e" stroke-width="1" stroke-linejoin="round"/>
<path d="M197.81 468.23 A137.1 137.1 0 0 1 311.10 603.25 L246.80 603.25 A72.8 72.8 0 0 0 186.64 531.56 Z" fill="#f20d17" stroke="#bc0a11" stroke-width="1" stroke-linejoin="round"/>
<path d="M36.90 603.25L44.90 603.25M55.27 534.70L62.20 538.70M105.45 484.52L109.45 491.45M174.00 466.15L174.00 474.15M242.55 484.52L238.55 491.45M292.73 534.70L285.80 538.70M311.10 603.25L303.10 603.25" stroke="#5e5e5e" stroke-width="1.2" fill="none"/>
<text x="32.60" y="609.15" text-anchor="end">0A</text>
<text x="51.68" y="535.90" text-anchor="end">1.5A</text>
<text x="103.80" y="481.73" text-anchor="end">3A</text>
<text x="174.30" y="459.65" text-anchor="middle">4.5A</text>
<text x="245.20" y="481.73" text-anchor="start">6A</text>
<text x="297.32" y="535.90" text-anchor="start">7.5A</text>
<text x="316.40" y="609.15" text-anchor="start">9A</text>
<path d="M176.46 600.10 L89.31 536.83 L89.07 537.15 L171.54 606.40 Z" fill="#cacaca"/>
<circle cx="174.0" cy="603.25" r="4.6" fill="#fff" stroke="#cdcdcd" stroke-width="1.5"/>
<text x="174.30" y="623.05" text-anchor="middle">1.9A</text>
</g>
<g>
<path d="M43.10 857.25 A130.9 130.9 0 0 1 99.64 749.52 L132.64 797.34 A72.8 72.8 0 0 0 101.20 857.25 Z" fill="#74f20f" stroke="#5abc0b" stroke-width="1" stroke-linejoin="round"/>
<path d="M99.64 749.52 A130.9 130.9 0 0 1 189.78 727.30 L182.78 784.98 A72.8 72.8 0 0 0 132.64 797.34 Z" fill="#f2b713" stroke="#bc8e0e" stroke-width="1" stroke-linejoin="round"/>
<path d="M189.78 727.30 A130.9 130.9 0 0 1 304.90 857.25 L246.80 857.25 A72.8 72.8 0 0 0 182.78 784.98 Z" fill="#f23f0d" stroke="#bc310a" stroke-width="1" stroke-linejoin="round"/>
<path d="M43.10 857.25L51.10 857.25M46.90 825.92L54.67 827.84M58.09 796.42L65.18 800.14M76.02 770.45L82.01 775.75M99.64 749.52L104.18 756.11M127.58 734.86L130.42 742.34M158.22 727.30L159.19 735.25M189.78 727.30L188.81 735.25M220.42 734.86L217.58 742.34M248.36 749.52L243.82 756.11M271.98 770.45L265.99 775.75M289.91 796.42L282.82 800.14M301.10 825.92L293.33 827.84M304.90 857.25L296.90 857.25" stroke="#5e5e5e" stroke-width="1.2" fill="none"/>
<text x="38.80" y="863.15" text-anchor="end">0A</text>
<text x="42.76" y="829.61" text-anchor="end">1A</text>
<text x="54.40" y="797.96" text-anchor="end">2A</text>
<text x="73.05" y="769.99" text-anchor="end">3A</text>
<text x="97.63" y="747.27" text-anchor="end">4A</text>
<text x="126.70" y="731.70" text-anchor="end">5A</text>
<text x="158.58" y="723.84" text-anchor="end">6A</text>
<text x="190.42" y="723.84" text-anchor="start">7A</text>
<text x="222.30" y="731.70" text-anchor="start">8A</text>
<text x="251.37" y="747.27" text-anchor="start">9A</text>
<text x="275.95" y="769.99" text-anchor="start">10A</text>
<text x="294.60" y="797.96" text-anchor="start">11A</text>
<text x="306.24" y="829.61" text-anchor="start">12A</text>
<text x="310.20" y="863.15" text-anchor="start">13A</text>
<path d="M176.27 853.96 L89.55 798.71 L89.32 799.04 L171.73 860.54 Z" fill="#cacaca"/>
<circle cx="174.0" cy="857.25" r="4.6" fill="#fff" stroke="#cdcdcd" stroke-width="1.5"/>
<text x="174.30" y="877.05" text-anchor="middle">2.5A</text>
</g>
</svg>

<div id="taskbar" style="position:absolute;left:0;top:874px;width:1611px;height:31px;background:linear-gradient(90deg,#2a2a2a 0,#2a2a2a 700px,#252525 845px,#222 910px,#242424 1611px);overflow:hidden">
  <div style="position:absolute;left:0;top:0;width:43px;height:31px;background:#1f2123"></div>
  <div style="position:absolute;left:43px;top:0;width:429.6px;height:31px;background:#f1f1f1;border-top:1px solid #bdbdbd;box-sizing:border-box"></div>
  <div style="position:absolute;left:93.4px;top:14.2px;font-size:19px;line-height:22px;letter-spacing:.05px;color:#3a3a3a;white-space:nowrap">Taper ici pour rechercher</div>
  <div style="position:absolute;left:845.1px;top:0;width:60.8px;height:31px;background:linear-gradient(90deg,#505050,#585858 50%,#4e4e4e)"></div>
  <svg style="position:absolute;left:0;top:0" width="1611" height="31" viewBox="0 874 1611 31">
    <!-- windows logo -->
    <path d="M2.8 891.4 L11.6 890.2 V898.4 H2.8 Z M12.8 890 L23 888.5 V898.4 H12.8 Z M2.8 899.6 H11.6 V907 H2.8 Z M12.8 899.6 H23 V908 H12.8 Z" fill="#fff"/>
    <!-- search glass -->
    <circle cx="70.8" cy="895.6" r="6.6" fill="none" stroke="#2c2c2c" stroke-width="1.5"/>
    <path d="M66.2 900.6 L60.5 906.5" stroke="#2c2c2c" stroke-width="1.6"/>
    <!-- cortana -->
    <circle cx="503" cy="898.9" r="8.7" fill="none" stroke="#fff" stroke-width="2.1"/>
    <!-- task view -->
    <path d="M553.6 889.2 H566.6 M553.6 905.2 H566.6 M570.8 888.6 V892.6 M570.8 900.8 V905" stroke="#fff" stroke-width="1.3" fill="none"/>
    <rect x="554.2" y="895.2" width="11.8" height="7.2" fill="none" stroke="#fff" stroke-width="1.3"/>
    <rect x="569.4" y="894.8" width="2.9" height="2.9" fill="#fff"/>
    <!-- //A logo -->
    <path d="M613.6 905 L623.4 888 H629.4 L619.6 905 Z" fill="#dedede"/>
    <path d="M624.4 905 L634.2 888 H640.2 L642.6 905 H637.4 L636.4 894.6 L630.2 905 Z" fill="#cfcfcf"/>
    <!-- folder -->
    <path d="M675.2 888.2 Q675.2 887 676.4 887 H686.6 L688.2 889.4 H701.6 Q702.8 889.4 702.8 890.6 V905 H675.2 Z" fill="#e9aa2a"/>
    <path d="M675.2 890.8 H687 L688.6 889.6 H701.6 Q702.8 889.6 702.8 890.8 V905 H675.2 Z" fill="#f8c951"/>
    <rect x="680.4" y="898.6" width="17.2" height="7" rx="1" fill="#3b8fe4"/>
    <rect x="683.2" y="901.6" width="11.6" height="4" fill="#f8c951"/>
    <!-- white ring app with dark/orange halves -->
    <circle cx="750.9" cy="898.8" r="11.4" fill="none" stroke="#fff" stroke-width="7"/>
    <path d="M744.6 903.6 A7.9 7.9 0 0 1 757.6 894.2 Z" fill="#323232"/>
    <path d="M746 905.4 L758.6 895.6 A7.9 7.9 0 0 1 750.9 906.7 Z" fill="#e96c22"/>
    <path d="M756 897.4 A7.9 7.9 0 0 1 750.9 906.7 L745.8 905.6 Z" fill="#e96c22"/>
    <!-- store -->
    <path d="M805.7 892.4 V887.4 Q805.7 885.4 807.7 885.4 H817.4 Q819.4 885.4 819.4 887.4 V892.4" stroke="#e9e9e9" stroke-width="2.9" fill="none"/>
    <path d="M798 892 H827 V905 H798 Z" fill="#f3f3f3"/>
    <path d="M798 892.5 H827" stroke="#dcdcdc" stroke-width="1"/>
    <rect x="807.2" y="898.1" width="4.7" height="4.7" fill="#f25022"/><rect x="813.1" y="898.1" width="4.8" height="4.7" fill="#7fba00"/>
    <rect x="807.2" y="904" width="4.7" height="2" fill="#00a4ef"/><rect x="813.1" y="904" width="4.8" height="2" fill="#ffb900"/>
    <!-- chrome -->
    <circle cx="874.6" cy="898.7" r="13.8" fill="#de4c3c"/>
    <path d="M874.6 898.7 L862.65 891.8 A13.8 13.8 0 0 0 867.7 910.65 L874.6 898.7 Z" fill="#1fa463"/>
    <path d="M867.7 910.65 A13.8 13.8 0 0 0 881.5 910.65 L881 899 H870 Z" fill="#1fa463"/>
    <path d="M874.6 898.7 L879.4 892.6 H886.9 A13.8 13.8 0 0 1 874.6 912.5 L870 906 Z" fill="#fcc934"/>
    <path d="M868.6 902.2 L862.65 891.8 L868 890 Z" fill="#1fa463"/>
    <circle cx="874.6" cy="898.7" r="6.3" fill="#f4f4f4"/>
    <circle cx="874.6" cy="898.7" r="5" fill="#4c8bf5"/>
    <!-- word -->
    <rect x="929" y="885" width="22" height="21" rx="1.2" fill="#2b7cd3"/>
    <path d="M930.2 885 H949.8 Q951 885 951 886.2 V892 H929 V886.2 Q929 885 930.2 885 Z" fill="#41a5ee"/>
    <rect x="929" y="899" width="22" height="7" fill="#185abd"/>
    <rect x="921.9" y="891.4" width="15.3" height="15" rx="1.2" fill="#1855b5"/>
    <text x="929.5" y="904.4" text-anchor="middle" font-family="'Liberation Sans',sans-serif" font-weight="bold" font-size="12.5" fill="#fff">W</text>
    <!-- outlook -->
    <rect x="992" y="885" width="20.5" height="21" rx="1.2" fill="#0f78d4"/>
    <path d="M993.2 885 H1011.3 Q1012.5 885 1012.5 886.2 V890.2 H992 V886.2 Q992 885 993.2 885 Z" fill="#0a5db5"/>
    <rect x="999" y="890.2" width="6.8" height="6" fill="#28a8ea"/><rect x="1005.8" y="890.2" width="6.7" height="6" fill="#50d9ff"/>
    <rect x="999" y="896.2" width="6.8" height="6" fill="#0f78d4"/><rect x="1005.8" y="896.2" width="6.7" height="6" fill="#28a8ea"/>
    <path d="M999 906 L1012.5 898.6 V906 Z" fill="#1a9cf0"/>
    <rect x="984" y="891.4" width="14.7" height="15" rx="1.2" fill="#1268cf"/>
    <ellipse cx="991.4" cy="898.9" rx="3.2" ry="3.7" fill="none" stroke="#fff" stroke-width="1.7"/>
    <!-- edge -->
    <defs><linearGradient id="edg" x1="0" y1="0" x2="1" y2=".55"><stop offset="0" stop-color="#23b5dc"/><stop offset=".5" stop-color="#33c7b4"/><stop offset="1" stop-color="#63d853"/></linearGradient>
    <linearGradient id="edb" x1="0" y1="0" x2=".6" y2="1"><stop offset="0" stop-color="#1b8ada"/><stop offset="1" stop-color="#0c59a4"/></linearGradient></defs>
    <circle cx="1061" cy="899" r="15.1" fill="url(#edb)"/>
    <path d="M1046 897.6 A15.1 15.1 0 0 1 1076.1 899 C1076.3 906.4 1068.6 908.4 1064 905.2 C1061.8 903.4 1065.4 901.4 1063.4 897.6 C1060.6 892 1049.6 891 1046 897.6 Z" fill="url(#edg)"/>
    <path d="M1057.6 901.4 A3.1 3.1 0 1 1 1063.4 900.6 Q1062 903.6 1064 905.4 L1059 906 Z" fill="#232323"/>
    <!-- firefox -->
    <defs><linearGradient id="ffx" x1=".9" y1="0" x2=".15" y2="1"><stop offset="0" stop-color="#ffe640"/><stop offset=".35" stop-color="#ffb12a"/><stop offset=".7" stop-color="#ff6a1a"/><stop offset="1" stop-color="#ff2d54"/></linearGradient>
    <radialGradient id="ffp" cx=".6" cy=".3" r=".8"><stop offset="0" stop-color="#a453f5"/><stop offset="1" stop-color="#5b2bc9"/></radialGradient></defs>
    <path d="M1127 883.8 C1130 886 1131 888 1132 890.4 L1133.6 889.4 C1137 893.6 1137.6 899.6 1135.6 904.6 C1133 910 1128 912.6 1122.6 912.6 C1114 912.6 1108.6 906 1108.8 899.4 C1109 894.6 1111 891.2 1113.4 888.4 L1114.6 891.4 L1116.6 889.4 L1118 892 C1120 891.4 1121.6 891.6 1123 892 C1123 888.6 1124.6 885.8 1127 883.8 Z" fill="url(#ffx)"/>
    <circle cx="1122.4" cy="899.2" r="5.7" fill="url(#ffp)"/>
    <path d="M1112.6 896.6 C1116 893.4 1120 894.4 1123 897.2 C1119.6 897.2 1118 898.4 1117 900 C1115.6 898.6 1114 897.4 1112.6 896.6 Z" fill="#ff9a1f"/>
    <!-- snipping tool -->
    <ellipse cx="1178.4" cy="901.4" rx="7.2" ry="2.6" fill="#9c9c9c"/>
    <g transform="rotate(-21 1184.4 892.5)"><ellipse cx="1184.4" cy="892.5" rx="12" ry="5.9" fill="#f3f3f3" stroke="#d92b2b" stroke-width="1.3"/></g>
    <path d="M1175.4 894.6 L1186.6 899.8 M1183.8 888.4 L1186.2 899.6" stroke="#9aa0a8" stroke-width="1.4"/>
    <circle cx="1191.8" cy="904" r="5.6" fill="none" stroke="#1e8ae0" stroke-width="1.9"/>
    <path d="M1187 901.6 L1196 905" stroke="#1e8ae0" stroke-width="1.6"/>
  </svg>
</div>

</main>
</body></html>
